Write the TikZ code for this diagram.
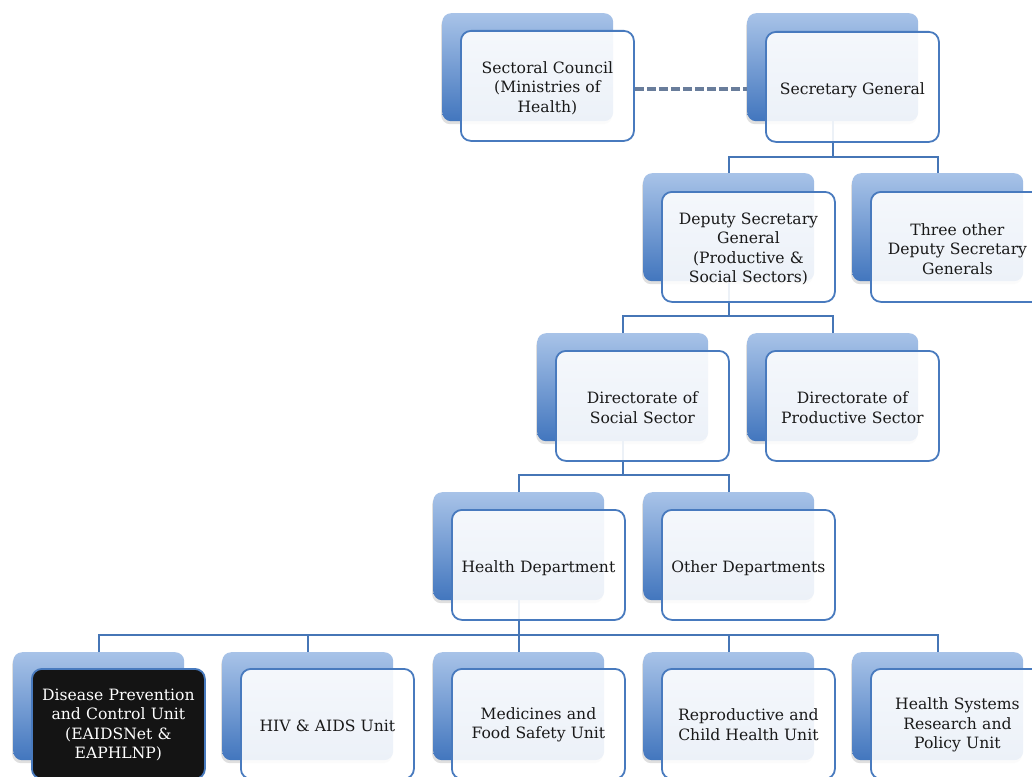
\documentclass[tikz,border=0pt]{standalone}
\usepackage{fontspec}
\setmainfont{DejaVu Serif}
\usetikzlibrary{shadows}
\definecolor{boxtop}{RGB}{168,195,232}
\definecolor{boxbot}{RGB}{66,118,190}
\definecolor{frame}{RGB}{72,122,190}
\definecolor{link}{RGB}{70,118,182}
\definecolor{dashc}{RGB}{105,125,155}
\definecolor{txt}{RGB}{25,25,25}
\begin{document}
\begin{tikzpicture}[x=1pt,y=-1pt,
  backbox/.style={anchor=north west, minimum width=171pt, minimum height=108pt, inner sep=0pt,
    rounded corners=9pt, top color=boxtop, bottom color=boxbot, draw=none,
    drop shadow={shadow xshift=-1pt, shadow yshift=-3pt, opacity=0.25}},
  frontbox/.style={anchor=north west, minimum width=173pt, minimum height=110pt,
    inner sep=0pt, rounded corners=10pt, draw=frame, line width=1.8pt,
    fill=white, fill opacity=0.9},
  darkbox/.style={frontbox, fill=black!92, fill opacity=1},
  boxtext/.style={text width=167pt, align=center, inner sep=0pt, text=txt,
    font=\fontsize{15.6}{19.5}\selectfont},
  darktext/.style={boxtext, text=white},
  conn/.style={draw=link, line width=1.8pt},
  dashlink/.style={draw=dashc, line width=3.5pt, dash pattern=on 9pt off 3pt}]
\useasboundingbox (0,0) rectangle (1032,776);
\clip (0,0) rectangle (1032,776);
\fill[white] (0,0) rectangle (1032,776);
% back boxes
\node[backbox] (scB) at (442,13) {};
\node[backbox] (sgB) at (747,13) {};
\node[backbox] (dsgB) at (643,173) {};
\node[backbox] (tdsB) at (852,173) {};
\node[backbox] (dssB) at (537,333) {};
\node[backbox] (dpsB) at (747,333) {};
\node[backbox] (hdB) at (433,492) {};
\node[backbox] (odB) at (643,492) {};
\node[backbox] (u1B) at (13,652) {};
\node[backbox] (u2B) at (222,652) {};
\node[backbox] (u3B) at (433,652) {};
\node[backbox] (u4B) at (643,652) {};
\node[backbox] (u5B) at (852,652) {};
% junctions
\coordinate (j1) at (sgB.south |- 0,157);
\coordinate (j2) at (dsgB.south |- 0,316);
\coordinate (j3) at (dssB.south |- 0,475);
\coordinate (j4) at (hdB.south |- 0,635);
% connectors
\draw[conn] (sgB.south) -- (j1);
\draw[conn] (dsgB.north) |- (j1);
\draw[conn] (tdsB.north) |- (j1);
\draw[conn] (dsgB.south) -- (j2);
\draw[conn] (dssB.north) |- (j2);
\draw[conn] (dpsB.north) |- (j2);
\draw[conn] (dssB.south) -- (j3);
\draw[conn] (hdB.north) |- (j3);
\draw[conn] (odB.north) |- (j3);
\draw[conn] (hdB.south) -- (j4);
\draw[conn] (u1B.north) |- (j4);
\draw[conn] (u2B.north) |- (j4);
\draw[conn] (u3B.north) |- (j4);
\draw[conn] (u4B.north) |- (j4);
\draw[conn] (u5B.north) |- (j4);
% front boxes
\node[frontbox] (scF) at ([shift={(18,17)}]scB.north west) {};
\node[frontbox] (sgF) at ([shift={(18,18)}]sgB.north west) {};
\node[frontbox] (dsgF) at ([shift={(18,18)}]dsgB.north west) {};
\node[frontbox] (tdsF) at ([shift={(18,18)}]tdsB.north west) {};
\node[frontbox] (dssF) at ([shift={(18,17)}]dssB.north west) {};
\node[frontbox] (dpsF) at ([shift={(18,17)}]dpsB.north west) {};
\node[frontbox] (hdF) at ([shift={(18,17)}]hdB.north west) {};
\node[frontbox] (odF) at ([shift={(18,17)}]odB.north west) {};
\node[darkbox] (u1F) at ([shift={(18,16)}]u1B.north west) {};
\node[frontbox] (u2F) at ([shift={(18,16)}]u2B.north west) {};
\node[frontbox] (u3F) at ([shift={(18,16)}]u3B.north west) {};
\node[frontbox] (u4F) at ([shift={(18,16)}]u4B.north west) {};
\node[frontbox] (u5F) at ([shift={(18,16)}]u5B.north west) {};
% texts
\node[boxtext] (scT) at ([shift={(0,2)}]scF.center) {Sectoral Council\\(Ministries of\\Health)};
\node[boxtext] (sgT) at ([shift={(0,3)}]sgF.center) {Secretary General};
\node[boxtext] (dsgT) at ([shift={(0,2)}]dsgF.center) {Deputy Secretary\\General\\(Productive \&\\Social Sectors)};
\node[boxtext] (tdsT) at ([shift={(0,2)}]tdsF.center) {Three other\\Deputy Secretary\\Generals};
\node[boxtext] (dssT) at ([shift={(0,2)}]dssF.center) {Directorate of\\Social Sector};
\node[boxtext] (dpsT) at ([shift={(0,2)}]dpsF.center) {Directorate of\\Productive Sector};
\node[boxtext] (hdT) at ([shift={(0,3)}]hdF.center) {Health Department};
\node[boxtext] (odT) at ([shift={(0,3)}]odF.center) {Other Departments};
\node[darktext] (u1T) at ([shift={(0,1)}]u1F.center) {Disease Prevention\\and Control Unit\\(EAIDSNet \&\\EAPHLNP)};
\node[boxtext] (u2T) at ([shift={(0,2)}]u2F.center) {HIV \& AIDS Unit};
\node[boxtext] (u3T) at ([shift={(0,1)}]u3F.center) {Medicines and\\Food Safety Unit};
\node[boxtext] (u4T) at ([shift={(0,1)}]u4F.center) {Reproductive and\\Child Health Unit};
\node[boxtext] (u5T) at ([shift={(0,1)}]u5F.center) {Health Systems\\Research and\\Policy Unit};
% dashed link
\draw[dashlink] ([yshift=-3pt]scF.east) -- ([yshift=-3pt]scF.east -| sgB.west);
\end{tikzpicture}
\end{document}
